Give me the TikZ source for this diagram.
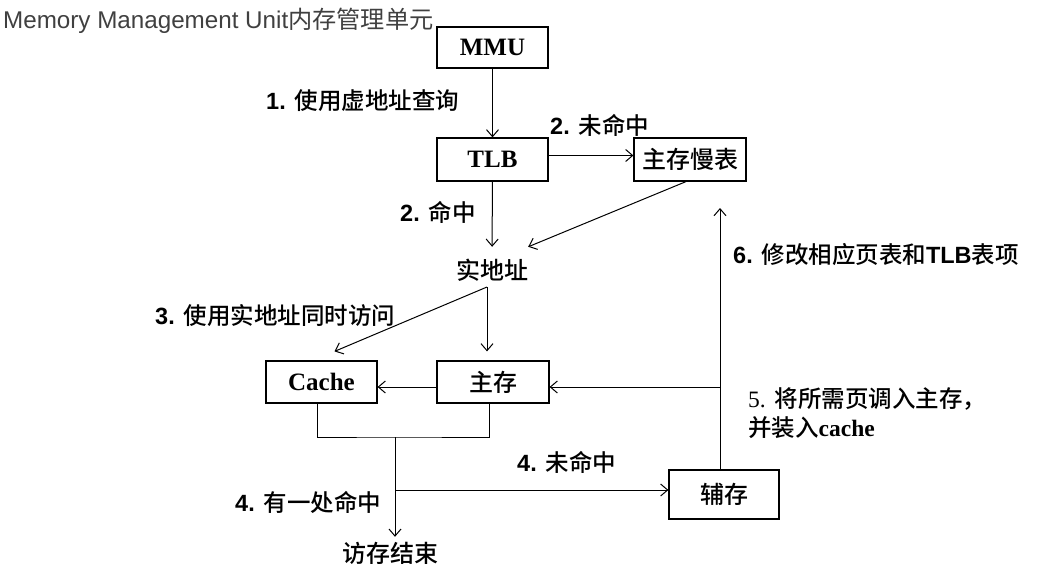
\documentclass[tikz,border=0pt]{standalone}
\usepackage{fontspec}
\setmainfont{Liberation Sans}
\newfontfamily\cjk{Noto Sans CJK SC}
\newfontfamily\cjkm{Noto Sans CJK SC Medium}
\newfontfamily\serifb{Liberation Serif}
\newcommand\zhb[1]{{\cjkm #1}}
\usetikzlibrary{arrows.meta}
\begin{document}
\begin{tikzpicture}[x=1pt,y=-1pt,
  box/.style={draw,line width=1.2pt,inner sep=0pt,fill=white},
  arr/.style={-{Straight Barb[length=7pt,width=12pt]},line width=1pt},
  ln/.style={line width=1pt},
  lbl/.style={anchor=west,inner sep=0pt,font=\fontsize{23.5}{28}\selectfont},
  boxtxt/.style={font=\fontsize{24}{28}\selectfont},
  serbox/.style={font=\serifb\bfseries\fontsize{25}{28}\selectfont}]
\useasboundingbox (0,0) rectangle (1054,588);
\node[anchor=west,inner sep=0pt,text=black!75,font=\fontsize{24.2}{28}\selectfont] (title) at (3,21) {Memory Management Unit{\cjk 内存管理单元}};
% boxes
\node[box,minimum width=111pt,minimum height=41pt,serbox] (mmu) at (492.5,47.5) {MMU};
\node[box,minimum width=111pt,minimum height=43pt,serbox] (tlb) at (492.5,159.5) {TLB};
\node[box,minimum width=112pt,minimum height=43pt,boxtxt] (slow) at (690,159.5) {\zhb{主存慢表}};
\node[inner sep=0pt,minimum width=64pt,minimum height=46pt,boxtxt] (real) at (492,270) {\zhb{实地址}};
\node[box,minimum width=111pt,minimum height=42pt,serbox] (cache) at (321.5,382) {Cache};
\node[box,minimum width=112pt,minimum height=42pt,boxtxt] (main) at (493,382) {\zhb{主存}};
\node[box,minimum width=110pt,minimum height=49pt,boxtxt] (aux) at (724,494.5) {\zhb{辅存}};
\node[inner sep=0pt,minimum width=94pt,minimum height=32pt,boxtxt] (done) at (390,553) {\zhb{访存结束}};
% junction coordinates
\coordinate (rs) at (487,287);
\coordinate (jn) at (395,437);
\coordinate (hb) at (395,490);
\coordinate (up) at (720,208);
\coordinate (br) at (720,387);
% connectors
\draw[arr] (mmu) -- (tlb);
\draw[arr] ([yshift=4pt]tlb.east) -- ([yshift=4pt]slow.west);
\draw[arr] (tlb) -- (real);
\draw[arr] ([xshift=-4pt]slow.south) -- (real.north east);
\draw[arr] (rs) -- ([xshift=13pt,yshift=9pt]cache.north);
\draw[arr] (rs) -- ([yshift=9pt]main.north -| rs);
\draw[arr] ([yshift=-5pt]main.west) -- ([yshift=-5pt]cache.east);
\draw[ln] ([xshift=-4.5pt]cache.south) |- (jn) -| ([xshift=-4pt]main.south);
\draw[arr] (jn) -- (jn |- done.north);
\draw[arr] (hb) -- (hb -| aux.west);
\draw[arr] (aux.north -| up) -- (up);
\draw[arr] (br) -- (br -| main.east);
% labels
\node[lbl] (l1) at (266,101) {\textbf{1.} \zhb{使用虚地址查询}};
\node[lbl] (l2a) at (550,125) {\textbf{2.} \zhb{未命中}};
\node[lbl] (l2b) at (400,212) {\textbf{2.} \zhb{命中}};
\node[lbl] (l3) at (155,316) {\textbf{3.} \zhb{使用实地址同时访问}};
\node[lbl] (l4a) at (517,462) {\textbf{4.} \zhb{未命中}};
\node[lbl] (l4b) at (235,502) {\textbf{4.} \zhb{有一处命中}};
\node[lbl] (l6) at (733,255) {\textbf{6.} \zhb{修改相应页表和}\textbf{TLB}\zhb{表项}};
\node[lbl,align=left,font=\fontsize{23.5}{29}\selectfont] (l5) at (748,413) {{\serifb 5.} \zhb{将所需页调入主存，}\\\zhb{并装入}{\serifb\bfseries cache}};
\end{tikzpicture}
\end{document}
